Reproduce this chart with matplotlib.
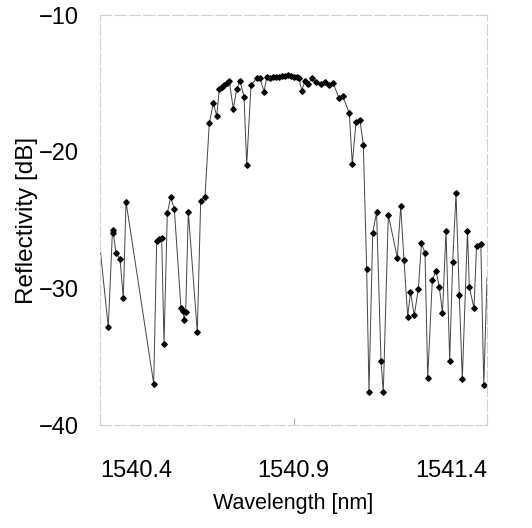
import matplotlib
matplotlib.use("Agg")
import matplotlib.pyplot as plt

plt.rcParams['font.family'] = ['Liberation Sans', 'DejaVu Sans']

# Reflection spectrum of the grating
wavelength_nm = [
    1540.400, 1540.4214, 1540.4323, 1540.4344, 1540.4413, 1540.4517, 1540.4602, 1540.4672,
    1540.5388, 1540.5465, 1540.5525, 1540.5594, 1540.5654, 1540.5739, 1540.5827, 1540.5920,
    1540.6093, 1540.6152, 1540.6171, 1540.6214, 1540.6282, 1540.6514, 1540.6602, 1540.6713,
    1540.6824, 1540.6928, 1540.7016, 1540.7083, 1540.7145, 1540.7204, 1540.7274, 1540.7341,
    1540.7444, 1540.7532, 1540.7618, 1540.7721, 1540.7791, 1540.7902, 1540.8049, 1540.8134,
    1540.8238, 1540.8307, 1540.8393, 1540.8470, 1540.8548, 1540.8625, 1540.8703, 1540.8780,
    1540.8858, 1540.8935, 1540.9013, 1540.9090, 1540.9142, 1540.9212, 1540.9297, 1540.9382,
    1540.9470, 1540.9581, 1540.9711, 1540.9814, 1540.9925, 1541.0028, 1541.0176, 1541.0271,
    1541.0442, 1541.0519, 1541.0615, 1541.0718, 1541.0804, 1541.0891, 1541.0951, 1541.1047,
    1541.1147, 1541.1261, 1541.1320, 1541.1450, 1541.1682, 1541.1770, 1541.1855, 1541.1951,
    1541.2023, 1541.2119, 1541.2225, 1541.2307, 1541.2398, 1541.2468, 1541.2587, 1541.2682,
    1541.2767, 1541.2850, 1541.2941, 1541.3036, 1541.3114, 1541.3199, 1541.3284, 1541.3362,
    1541.3496, 1541.3543, 1541.3664, 1541.3729, 1541.3840, 1541.3917, 1541.4000,
]
reflectivity_db = [
    -27.00, -32.85, -25.73, -25.95, -27.39, -27.85, -30.72, -23.66,
    -36.99, -26.51, -26.41, -26.33, -34.09, -24.51, -23.34, -24.19,
    -31.46, -31.63, -32.31, -31.70, -24.39, -33.21, -23.61, -23.29,
    -17.92, -16.46, -17.39, -15.44, -15.25, -15.12, -15.00, -14.83,
    -16.88, -15.44, -14.81, -15.98, -20.97, -15.12, -14.63, -14.63,
    -15.61, -14.56, -14.60, -14.55, -14.50, -14.50, -14.45, -14.45,
    -14.40, -14.45, -14.50, -14.55, -14.60, -15.54, -14.81, -15.05,
    -14.63, -14.88, -15.05, -14.88, -15.12, -15.00, -16.09, -15.93,
    -17.19, -20.90, -17.85, -17.68, -19.51, -28.58, -37.58, -25.93,
    -24.43, -35.31, -37.60, -24.63, -27.75, -24.01, -27.92, -32.09,
    -30.26, -31.98, -30.07, -26.68, -27.43, -36.53, -29.41, -28.71,
    -29.90, -31.78, -25.78, -35.29, -28.07, -23.04, -30.48, -36.63,
    -25.78, -29.90, -31.46, -26.92, -26.73, -37.10, -29.24,
]

x_ticks = [1540.4, 1540.9, 1541.4]
x_tick_labels = ["1540.4", "1540.9", "1541.4"]
y_ticks = [-10, -20, -30, -40]

fig = plt.figure(figsize=(5.32, 5.28), dpi=100)
ax = fig.add_axes([100 / 532, 1 - 425 / 528, 387 / 532, 410 / 528])

ax.plot(wavelength_nm, reflectivity_db, color="#444444", linewidth=0.7,
        marker="D", markersize=2.8, markerfacecolor="black",
        markeredgecolor="black", markevery=list(range(1, len(wavelength_nm) - 1)))

ax.set_xlim(1540.4, 1541.4)
ax.set_ylim(-40, -10)

ax.set_xticks(x_ticks)
ax.set_xticklabels(x_tick_labels)
labels = ax.get_xticklabels()
labels[0].set_ha("left")
labels[-1].set_ha("right")
ax.set_yticks(y_ticks)

ax.tick_params(axis="x", direction="in", length=5, color="#aaaaaa",
               labelsize=17, pad=25)
ax.tick_params(axis="y", length=0, labelsize=17, pad=15)

for side in ["left", "right", "top", "bottom"]:
    ax.spines[side].set_color("#d0d0d0")
    ax.spines[side].set_linewidth(0.8)
    ax.spines[side].set_linestyle((0, (10, 3)))

ax.set_xlabel("Wavelength [nm]", fontsize=15.5, labelpad=8)
ax.set_ylabel("Reflectivity [dB]", fontsize=17.5, labelpad=1)

fig.savefig("out.png", dpi=100)
